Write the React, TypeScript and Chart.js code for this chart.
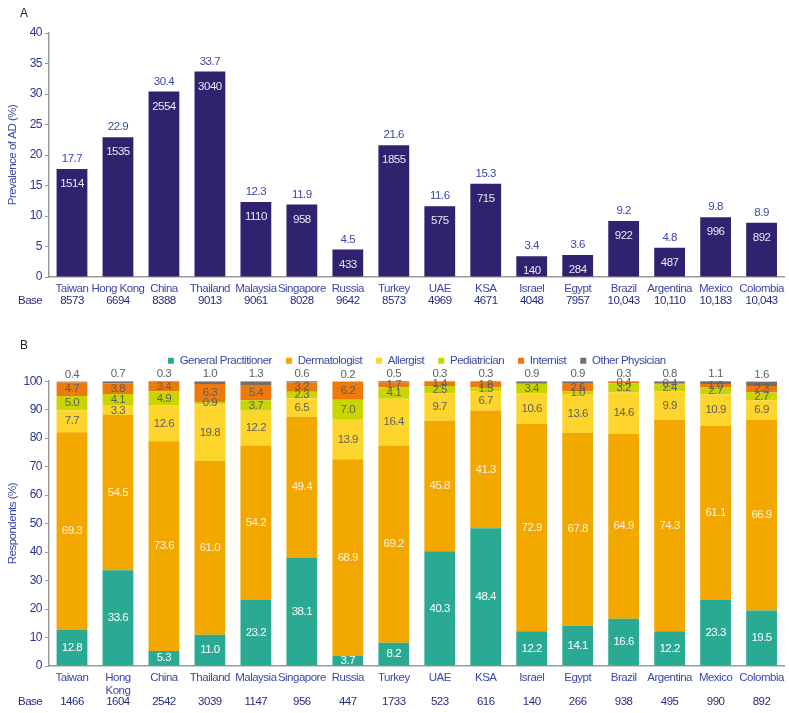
import React, { useEffect, useRef } from 'react';
import { Chart, registerables } from 'chart.js';

Chart.register(...registerables);

const FONT = '"Liberation Sans", Arial, Helvetica, sans-serif';
const FS = 11.5;
const SPACING = '-0.5px';

// ---------- Panel A data ----------
const countriesA = ['Taiwan', 'Hong Kong', 'China', 'Thailand', 'Malaysia', 'Singapore', 'Russia', 'Turkey', 'UAE', 'KSA', 'Israel', 'Egypt', 'Brazil', 'Argentina', 'Mexico', 'Colombia'];
const prevalence = [17.7, 22.9, 30.4, 33.7, 12.3, 11.9, 4.5, 21.6, 11.6, 15.3, 3.4, 3.6, 9.2, 4.8, 9.8, 8.9];
const adCounts = ['1514', '1535', '2554', '3040', '1110', '958', '433', '1855', '575', '715', '140', '284', '922', '487', '996', '892'];
const baseA = ['8573', '6694', '8388', '9013', '9061', '8028', '9642', '8573', '4969', '4671', '4048', '7957', '10,043', '10,110', '10,183', '10,043'];
const yTicksA = { min: 0, max: 40, step: 5 };

// ---------- Panel B data ----------
const countriesB: (string | string[])[] = ['Taiwan', ['Hong', 'Kong'], 'China', 'Thailand', 'Malaysia', 'Singapore', 'Russia', 'Turkey', 'UAE', 'KSA', 'Israel', 'Egypt', 'Brazil', 'Argentina', 'Mexico', 'Colombia'];
const baseB = ['1466', '1604', '2542', '3039', '1147', '956', '447', '1733', '523', '616', '140', '266', '938', '495', '990', '892'];
const generalPractitioner = [12.8, 33.6, 5.3, 11.0, 23.2, 38.1, 3.7, 8.2, 40.3, 48.4, 12.2, 14.1, 16.6, 12.2, 23.3, 19.5];
const dermatologist = [69.3, 54.5, 73.6, 61.0, 54.2, 49.4, 68.9, 69.2, 45.8, 41.3, 72.9, 67.8, 64.9, 74.3, 61.1, 66.9];
const allergist = [7.7, 3.3, 12.6, 19.8, 12.2, 6.5, 13.9, 16.4, 9.7, 6.7, 10.6, 13.6, 14.6, 9.9, 10.9, 6.9];
const pediatrician = [5.0, 4.1, 4.9, 0.9, 3.7, 2.3, 7.0, 4.1, 2.5, 1.5, 3.4, 1.0, 3.2, 2.4, 2.7, 2.7];
const internist = [4.7, 3.8, 3.4, 6.3, 5.4, 3.2, 6.2, 1.7, 1.4, 1.8, 0, 2.6, 0.4, 0.4, 1.0, 2.3];
const otherPhysician = [0.4, 0.7, 0.3, 1.0, 1.3, 0.6, 0.2, 0.5, 0.3, 0.3, 0.9, 0.9, 0.3, 0.8, 1.1, 1.6];
const seriesNamesB = ['General Practitioner', 'Dermatologist', 'Allergist', 'Pediatrician', 'Internist', 'Other Physician'];
const yTicksB = { min: 0, max: 100, step: 10 };

const COLORS = {
  barA: '#2f236f',
  gp: '#2aaa93',
  derm: '#f3a800',
  allergist: '#fed52c',
  ped: '#c9d400',
  intern: '#ec7a0c',
  other: '#7a6b64',
  label: '#3a48a8',
  tick: '#2a3592',
  base: '#262c7c',
  axis: '#9a9a9a',
  gray: '#5f5f5f',
};

// narrows the text a little, as in the reference
const spacingPlugin = {
  id: 'spacing',
  beforeUpdate(chart: any) { chart.ctx.letterSpacing = SPACING; },
  beforeLayout(chart: any) { chart.ctx.letterSpacing = SPACING; },
  beforeDraw(chart: any) { chart.ctx.letterSpacing = SPACING; },
};

const baseRowPlugin = (id: string, bases: string[], offset: number) => ({
  id,
  afterDraw(chart: any) {
    const ctx = chart.ctx;
    const xs = chart.scales.x;
    const y = chart.chartArea.bottom + offset;
    ctx.save();
    ctx.font = `${FS}px ${FONT}`;
    ctx.fillStyle = COLORS.base;
    ctx.textBaseline = 'middle';
    ctx.textAlign = 'left';
    ctx.fillText('Base', 18, y);
    ctx.textAlign = 'center';
    bases.forEach((b, i) => {
      ctx.fillText(b, xs.getPixelForValue(i), y);
    });
    ctx.restore();
  },
});

const labelsA = {
  id: 'labelsA',
  afterDatasetsDraw(chart: any) {
    const ctx = chart.ctx;
    const meta = chart.getDatasetMeta(0);
    ctx.save();
    ctx.font = `${FS}px ${FONT}`;
    ctx.textAlign = 'center';
    ctx.textBaseline = 'middle';
    meta.data.forEach((el: any, i: number) => {
      ctx.fillStyle = COLORS.label;
      ctx.fillText(prevalence[i].toFixed(1), el.x, el.y - 10);
      ctx.fillStyle = '#e8e8f2';
      ctx.fillText(adCounts[i], el.x, el.y + 15);
    });
    ctx.restore();
  },
};

const labelsB = {
  id: 'labelsB',
  afterDatasetsDraw(chart: any) {
    const ctx = chart.ctx;
    ctx.save();
    ctx.font = `${FS}px ${FONT}`;
    ctx.textAlign = 'center';
    ctx.textBaseline = 'middle';
    chart.data.datasets.forEach((ds: any, di: number) => {
      const meta = chart.getDatasetMeta(di);
      meta.data.forEach((el: any, i: number) => {
        const v = ds.data[i];
        if (di === 5) {
          ctx.fillStyle = COLORS.gray;
          ctx.fillText(v.toFixed(1), el.x, el.y - 7);
          return;
        }
        if (v < 0.3) return;
        ctx.fillStyle = di <= 1 ? (di === 0 ? '#ffffff' : '#fff3dc') : COLORS.gray;
        ctx.fillText(v.toFixed(1), el.x, (el.y + el.base) / 2);
      });
    });
    ctx.restore();
  },
};

function ChartA() {
  const ref = useRef<HTMLCanvasElement>(null);
  useEffect(() => {
    const chart = new Chart(ref.current!, {
      type: 'bar',
      data: {
        labels: countriesA,
        datasets: [{ data: prevalence, backgroundColor: COLORS.barA, barPercentage: 0.67, categoryPercentage: 1 }],
      },
      options: {
        responsive: false,
        animation: false,
        layout: { padding: { top: 33, right: 4, left: 0, bottom: 0 } },
        plugins: { legend: { display: false }, tooltip: { enabled: false } },
        scales: {
          x: {
            grid: { display: false, drawTicks: false },
            border: { color: COLORS.axis, width: 1.5 },
            ticks: { color: COLORS.label, font: { family: FONT, size: FS }, padding: 5, maxRotation: 0, autoSkip: false },
            afterFit: (s: any) => { s.height = 38; },
          },
          y: {
            min: yTicksA.min,
            max: yTicksA.max,
            ticks: { stepSize: yTicksA.step, color: COLORS.tick, font: { family: FONT, size: 12 }, padding: 3 },
            grid: { drawOnChartArea: false, drawTicks: true, tickLength: 4, color: COLORS.axis },
            border: { color: COLORS.axis, width: 1.5 },
            title: { display: true, text: 'Prevalence of AD (%)', color: COLORS.label, font: { family: FONT, size: FS }, padding: { top: 6, bottom: 0 } },
            afterFit: (s: any) => { s.width = 49; },
          },
        },
      },
      plugins: [spacingPlugin, labelsA, baseRowPlugin('baseA', baseA, 24)],
    } as any);
    return () => chart.destroy();
  }, []);
  return <canvas ref={ref} width={789} height={315} style={{ position: 'absolute', left: 0, top: 0 }} />;
}

function ChartB() {
  const ref = useRef<HTMLCanvasElement>(null);
  useEffect(() => {
    const series = [generalPractitioner, dermatologist, allergist, pediatrician, internist, otherPhysician];
    const colors = [COLORS.gp, COLORS.derm, COLORS.allergist, COLORS.ped, COLORS.intern, COLORS.other];
    const chart = new Chart(ref.current!, {
      type: 'bar',
      data: {
        labels: countriesB,
        datasets: series.map((d, i) => ({
          label: seriesNamesB[i],
          data: d,
          backgroundColor: colors[i],
          barPercentage: 0.67,
          categoryPercentage: 1,
          stack: 's',
        })),
      },
      options: {
        responsive: false,
        animation: false,
        layout: { padding: { top: 26, right: 4, left: 0, bottom: 0 } },
        plugins: {
          legend: {
            display: true,
            position: 'top',
            fullSize: false,
            labels: { boxWidth: 6, boxHeight: 6, padding: 14, color: COLORS.label, font: { family: FONT, size: FS } },
          },
          subtitle: { display: true, text: '', weight: 500, position: 'top', font: { size: 1, lineHeight: 1 }, padding: { top: 0, bottom: 3.7 } },
          tooltip: { enabled: false },
        },
        scales: {
          x: {
            stacked: true,
            grid: { display: false, drawTicks: false },
            border: { color: COLORS.axis, width: 1.5 },
            ticks: { color: COLORS.label, font: { family: FONT, size: FS, lineHeight: 1.15 }, padding: 5, maxRotation: 0, autoSkip: false },
            afterFit: (s: any) => { s.height = 47; },
          },
          y: {
            stacked: true,
            min: yTicksB.min,
            max: yTicksB.max,
            ticks: { stepSize: yTicksB.step, color: COLORS.tick, font: { family: FONT, size: 12 }, padding: 3 },
            grid: { drawOnChartArea: false, drawTicks: true, tickLength: 4, color: COLORS.axis },
            border: { color: COLORS.axis, width: 1.5 },
            title: { display: true, text: 'Respondents (%)', color: COLORS.label, font: { family: FONT, size: FS }, padding: { top: 6, bottom: 0 } },
            afterFit: (s: any) => { s.width = 49; },
          },
        },
      },
      plugins: [spacingPlugin, labelsB, baseRowPlugin('baseB', baseB, 36)],
    } as any);
    return () => chart.destroy();
  }, []);
  return <canvas ref={ref} width={789} height={398} style={{ position: 'absolute', left: 0, top: 315 }} />;
}

export default function App() {
  const letter: React.CSSProperties = { position: 'absolute', left: 20, fontFamily: FONT, fontSize: 12, lineHeight: '14px', color: '#222' };
  return (
    <div style={{ position: 'absolute', left: 0, top: 0, width: 789, height: 713, background: '#fff', overflow: 'hidden' }}>
      <ChartA />
      <ChartB />
      <div style={{ ...letter, top: 6 }}>A</div>
      <div style={{ ...letter, top: 338 }}>B</div>
    </div>
  );
}
